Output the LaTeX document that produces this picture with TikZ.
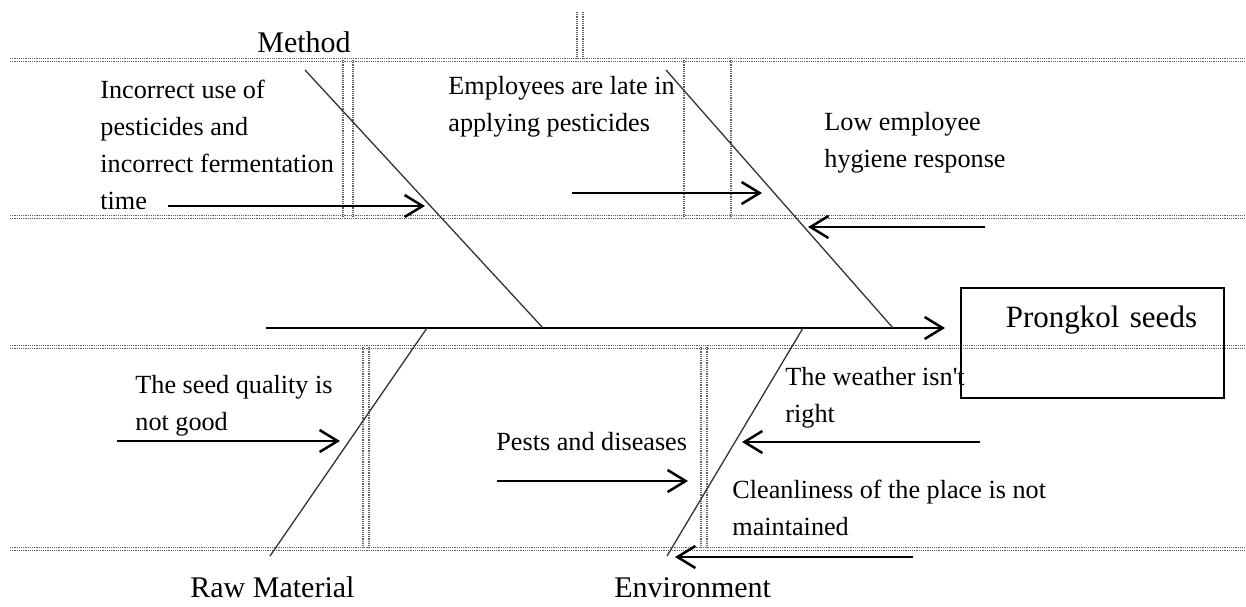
\documentclass[tikz,border=0pt]{standalone}
\usepackage{fontspec}
\setmainfont{Liberation Serif}[Ligatures=TeXOff]
\usetikzlibrary{arrows.meta}
\tikzset{
  cell/.style={draw=black!62, line width=0.55pt, dash pattern=on 0.6pt off 0.5pt},
  bone/.style={draw=black!80, line width=0.65pt},
  spine/.style={draw=black, line width=1.25pt, -{Straight Barb[length=9pt,width=11pt]}},
  cause/.style={draw=black, line width=1.25pt, -{Straight Barb[length=9pt,width=11pt]}},
  causetext/.style={anchor=north west, inner sep=0pt, align=left, font=\fontsize{13.1}{18.5}\selectfont},
  category/.style={anchor=base west, inner sep=0pt, font=\fontsize{15}{18}\selectfont},
  effectbox/.style={draw, line width=0.9pt, inner sep=0pt, text width=131.5pt, align=left,
    text height=20pt, text depth=35pt, font=\fontsize{15.5}{18}\selectfont, anchor=north west},
}
\begin{document}
\begin{tikzpicture}[x=0.5pt,y=-0.5pt]
\useasboundingbox[fill=white] (0,0) rectangle (1246,606);
% table grid (dotted cell borders)
\foreach \y in {60,217,347,549} {
  \draw[cell] (10,\y-1.2) -- (1246,\y-1.2);
  \draw[cell] (10,\y+1.2) -- (1246,\y+1.2);
}
\foreach \x in {343,353,684,731} \draw[cell] (\x,60) -- (\x,217);
\foreach \x in {577,583} \draw[cell] (\x,12) -- (\x,60);
\foreach \x in {363,369,701,707} \draw[cell] (\x,347) -- (\x,549);

% effect
\node[effectbox] (effect) at (960,287) {\hspace*{22.5pt}Prongkol seeds};

% spine and bones
\coordinate (tail) at (266,328);
\coordinate (head) at (945,328);
\coordinate (m1) at (305,70);  \coordinate (m2) at (543,328);
\coordinate (p1) at (666,70);  \coordinate (p2) at (893,328);
\coordinate (r1) at (427,328); \coordinate (r2) at (270,556);
\coordinate (e1) at (803,328); \coordinate (e2) at (667,556);
\draw[spine] (tail) -- (head);
\draw[bone] (m1) -- (m2);
\draw[bone] (p1) -- (p2);
\draw[bone] (r1) -- (r2);
\draw[bone] (e1) -- (e2);

% categories
\node[category] (method) at (257,52) {Method};
\node[category] (raw) at (190,597) {Raw Material};
\node[category] (env) at (614,597) {Environment};

% causes
\node[causetext] (c1) at (100,80) {Incorrect use of\\pesticides and\\incorrect fermentation\\time};
\node[causetext] (c2) at (448,76) {Employees are late in\\applying pesticides};
\node[causetext] (c3) at (824,112) {Low employee\\hygiene response};
\node[causetext] (c4) at (135,375) {The seed quality is\\not good};
\node[causetext] (c5) at (496,432) {Pests and diseases};
\node[causetext] (c6) at (785,367) {The weather isn't\\right};
\node[causetext] (c7) at (732,480) {Cleanliness of the place is not\\maintained};

% cause arrows
\coordinate (a1s) at (168,206); \coordinate (a1e) at (425,206);
\coordinate (a2s) at (572,193); \coordinate (a2e) at (762,193);
\coordinate (a3s) at (985,227); \coordinate (a3e) at (808,227);
\coordinate (a4s) at (117,441); \coordinate (a4e) at (340,441);
\coordinate (a5s) at (497,481); \coordinate (a5e) at (688,481);
\coordinate (a6s) at (980,442); \coordinate (a6e) at (742,442);
\coordinate (a7s) at (913,557); \coordinate (a7e) at (675,557);
\draw[cause] (a1s) -- (a1e);
\draw[cause] (a2s) -- (a2e);
\draw[cause] (a3s) -- (a3e);
\draw[cause] (a4s) -- (a4e);
\draw[cause] (a5s) -- (a5e);
\draw[cause] (a6s) -- (a6e);
\draw[cause] (a7s) -- (a7e);
\end{tikzpicture}
\end{document}
